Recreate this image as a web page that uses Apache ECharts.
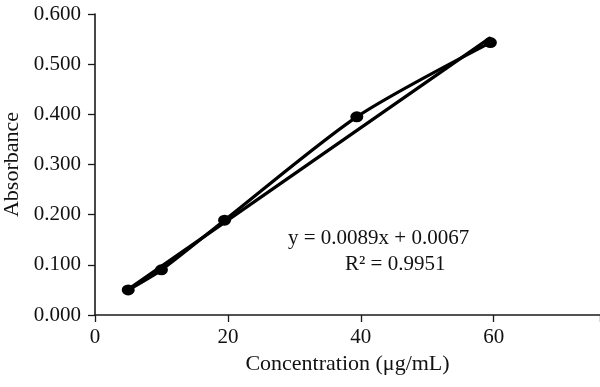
<!DOCTYPE html>
<html>
<head>
<meta charset="utf-8">
<script src="https://cdn.jsdelivr.net/npm/echarts@6/dist/echarts.min.js"></script>
<style>
html,body{margin:0;padding:0;background:#fff;}
#chart{width:600px;height:387px;}
</style>
</head>
<body>
<div id="chart"></div>
<script>
// Data
const concentration = [5, 10, 19.5, 39.4, 59.5];
const absorbance = [0.050, 0.090, 0.189, 0.395, 0.543];
const trendX = [5, 59.4];
const trendY = [0.051, 0.552];
const xTicks = [0, 20, 40, 60];
const yTicks = [0.000, 0.100, 0.200, 0.300, 0.400, 0.500, 0.600];
const equationText = 'y = 0.0089x + 0.0067';
const r2Text = 'R\u00B2 = 0.9951';
const xTitle = 'Concentration (\u03BCg/mL)';
const yTitle = 'Absorbance';

const FONT = '"Liberation Serif", "DejaVu Serif", serif';
const FS = 21;
const FST = 22;

const chart = echarts.init(document.getElementById('chart'), null, {renderer: 'canvas'});

const option = {
  animation: false,
  backgroundColor: '#ffffff',
  grid: {left: 95, right: 0, top: 14, bottom: 72, containLabel: false, outerBoundsMode: 'none'},
  xAxis: {
    type: 'value',
    min: 0, max: 76, interval: 20,
    name: xTitle,
    nameLocation: 'middle',
    nameGap: 38,
    nameTextStyle: {fontFamily: FONT, fontSize: FST, color: '#111'},
    axisLine: {show: true, onZero: false, lineStyle: {color: '#1a1a1a', width: 1.6}},
    axisTick: {show: true, inside: false, length: 7, lineStyle: {color: '#1a1a1a', width: 1.3}},
    axisLabel: {
      margin: 12, fontFamily: FONT, fontSize: FS, color: '#111',
      formatter: function (v) { return xTicks.indexOf(v) >= 0 ? String(v) : ''; }
    },
    splitLine: {show: false}
  },
  yAxis: {
    type: 'value',
    min: yTicks[0], max: yTicks[yTicks.length - 1], interval: 0.1,
    name: yTitle,
    nameLocation: 'middle',
    nameGap: 71,
    nameTextStyle: {fontFamily: FONT, fontSize: FST, color: '#111'},
    axisLine: {show: true, onZero: false, lineStyle: {color: '#1a1a1a', width: 1.6}},
    axisTick: {show: true, inside: false, length: 7, lineStyle: {color: '#1a1a1a', width: 1.3}},
    axisLabel: {
      margin: 14, fontFamily: FONT, fontSize: FS, color: '#111',
      formatter: function (v) { return v.toFixed(3); }
    },
    splitLine: {show: false}
  },
  series: [
    {
      name: 'Trendline',
      type: 'line',
      data: trendX.map(function (x, i) { return [x, trendY[i]]; }),
      showSymbol: false,
      symbol: 'none',
      lineStyle: {color: '#000', width: 3.2, cap: 'round'},
      z: 2
    },
    {
      name: 'Absorbance',
      type: 'line',
      smooth: 0.25,
      data: concentration.map(function (x, i) { return [x, absorbance[i]]; }),
      symbol: 'circle',
      symbolSize: [13, 11],
      itemStyle: {color: '#000'},
      lineStyle: {color: '#000', width: 3.2},
      z: 3
    }
  ],
  graphic: [
    {
      type: 'text', left: 288, top: 228,
      style: {text: equationText, font: FS + 'px ' + FONT, fill: '#111'}
    },
    {
      type: 'text', left: 345, top: 254,
      style: {text: r2Text, font: FS + 'px ' + FONT, fill: '#111'}
    }
  ]
};
chart.setOption(option);
</script>
</body>
</html>
